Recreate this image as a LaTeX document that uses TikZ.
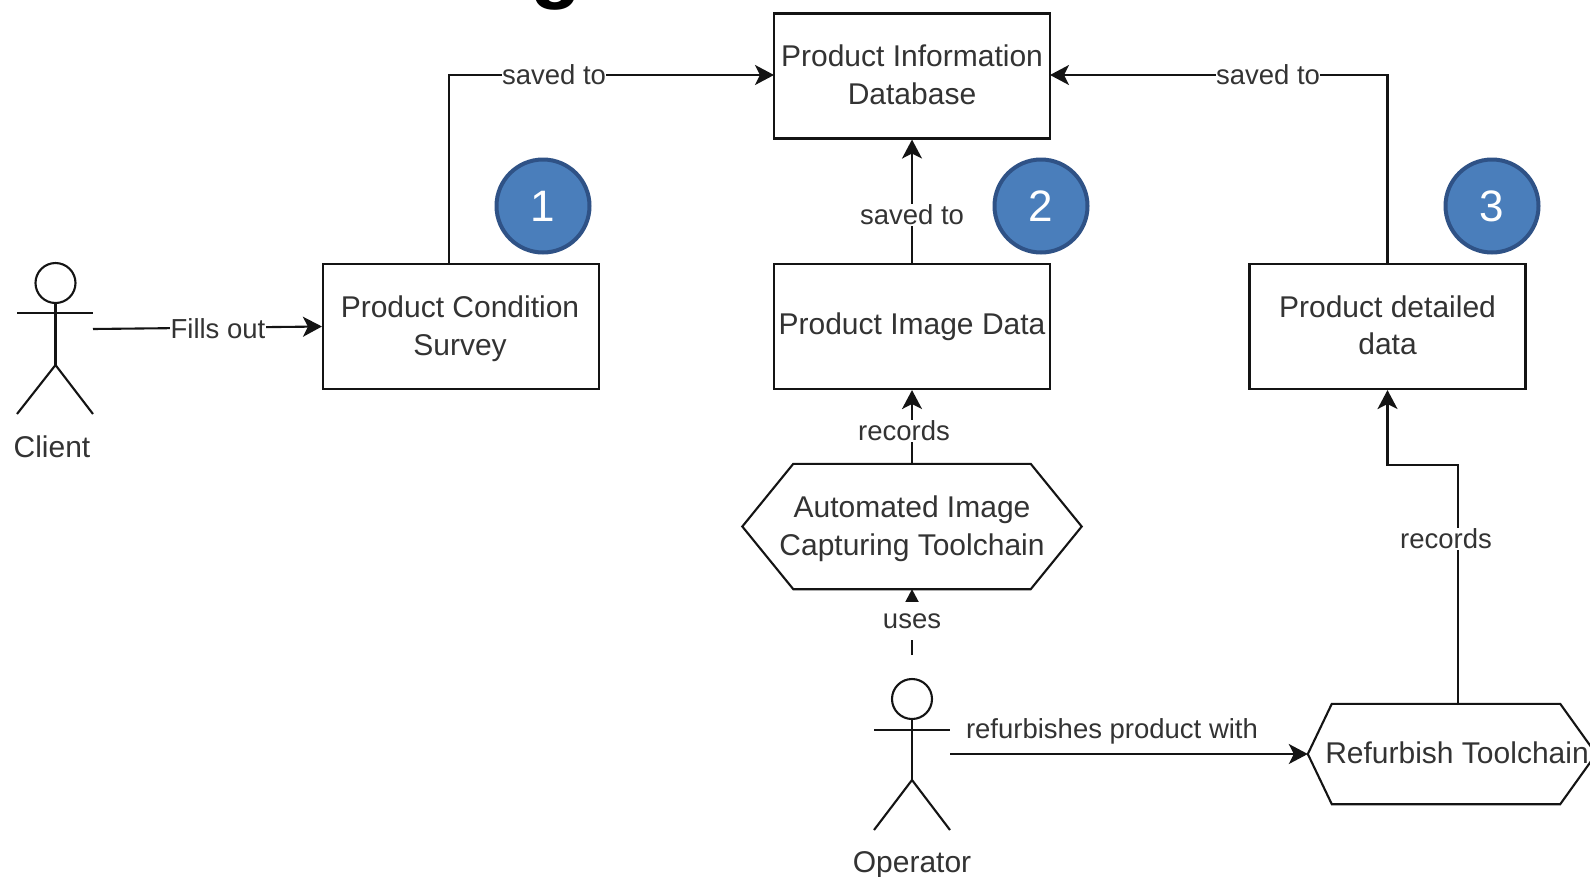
\documentclass[tikz,border=0pt]{standalone}
\usepackage{fontspec}
\setmainfont{Liberation Sans}
\usetikzlibrary{arrows.meta}
\definecolor{inkc}{HTML}{141414}
\definecolor{textc}{HTML}{333333}
\definecolor{badgefill}{HTML}{4A7EBB}
\definecolor{badgeline}{HTML}{2F5286}
\tikzset{
  conn/.style={draw=inkc,line width=2.1pt,-{Stealth[length=19pt,width=20pt,inset=5pt]}},
  plainline/.style={draw=inkc,line width=2.1pt},
  boxnode/.style={draw=inkc,line width=2.1pt,minimum width=276pt,minimum height=125pt,inner sep=0pt},
  boxtext/.style={align=center,font=\fontsize{30}{37.5}\selectfont,text=textc,inner sep=0pt},
  hexbase/.style={minimum width=339pt,minimum height=125pt,inner sep=0pt},
  lbl/.style={fill=white,font=\fontsize{27.5}{32}\selectfont,text=textc,inner sep=0.5pt},
  lblb/.style={font=\fontsize{27.5}{32}\selectfont,text=textc,inner sep=0.5pt},
  actorname/.style={font=\fontsize{30}{34}\selectfont,text=textc,inner sep=0pt},
  head/.style={circle,draw=inkc,line width=2.1pt,minimum size=40pt,inner sep=0pt},
  badge/.style={circle,draw=badgeline,fill=badgefill,line width=4pt,minimum size=93pt,inner sep=0pt,text=white,font=\fontsize{44}{50}\selectfont},
}
\begin{document}
\begin{tikzpicture}[x=1pt,y=-1pt]
\useasboundingbox (0,0) rectangle (1590,876);
\clip (0,0) rectangle (1590,876);
\fill[white] (0,0) rectangle (1590,876);

% clipped heading letter at the top edge
\node[anchor=base,inner sep=0pt,font=\bfseries\fontsize{84}{84}\selectfont,text=black] (titleg) at (556,-8) {g};

% boxes
\node[boxnode] (db) at (912,76) {};
\node[boxtext] (dbtext) at (912,75) {Product Information\\Database};
\node[boxnode] (survey) at (461,326.5) {};
\node[boxtext] (surveytext) at (460,328.5) {Product Condition\\Survey};
\node[boxnode] (image) at (912,326.5) {};
\node[boxtext] (imagetext) at (912,327) {Product Image Data};
\node[boxnode] (detail) at (1387.5,326.5) {};
\node[boxtext] (detailtext) at (1387.5,325.5) {Product detailed\\data};

% hexagons
\node[hexbase] (capture) at (912,526.5) {};
\node[boxtext] (capturetext) at (912,528.5) {Automated Image\\Capturing Toolchain};
\draw[plainline,line join=miter] (capture.west) -- ([xshift=51pt]capture.north west) -- ([xshift=-51pt]capture.north east) -- (capture.east) -- ([xshift=-51pt]capture.south east) -- ([xshift=51pt]capture.south west) -- cycle;
\node[hexbase,minimum width=288pt,minimum height=100pt] (refurb) at (1452,754) {};
\node[boxtext] (refurbtext) at (1457,753) {Refurbish Toolchain};
\draw[plainline,line join=miter] (refurb.west) -- ([xshift=24pt]refurb.north west) -- ([xshift=-36pt]refurb.north east) -- (refurb.east) -- ([xshift=-36pt]refurb.south east) -- ([xshift=24pt]refurb.south west) -- cycle;

% actors
\node[head] (chead) at (55.5,283) {};
\coordinate (chip) at (55.5,365);
\draw[plainline] (chead.south) -- (chip);
\draw[plainline] (17,313) -- (93,313);
\draw[plainline] (17,414) -- (chip) -- (93,414);
\node[actorname] (client) at (52,447) {Client};

\node[head] (ohead) at (912,699) {};
\coordinate (ohip) at (912,780);
\draw[plainline] (ohead.south) -- (ohip);
\draw[plainline] (874,730) -- (950,730);
\draw[plainline] (874,830) -- (ohip) -- (950,830);
\node[actorname] (operator) at (912,865) {Operator};

% free connector ends
\coordinate (cout) at (93,329);
\coordinate (oup) at (912,655);
\coordinate (oright) at (950,754);
\coordinate (sstart) at (449,264);
\coordinate (dbl) at (774,75);
\coordinate (dbr) at (1050,75);
\coordinate (rstart) at (1458,705);
\coordinate (rbend) at (1458,465);

% connectors
\draw[conn] (cout) -- (survey.west);
\node[lbl] (l1) at (218,329) {Fills out};
\draw[conn] (sstart) |- (dbl);
\node[lbl] (l2) at (554,75) {saved to};
\draw[conn] (detail.north) |- (dbr);
\node[lbl] (l3) at (1268,75) {saved to};
\draw[conn] (image.north) -- (db.south);
\node[lbl] (l4) at (912,215) {saved to};
\draw[conn] (capture.north) -- (image.south);
\node[lbl] (l5) at (904,431) {records};
\draw[conn] (oup) -- (capture.south);
\node[lbl,minimum height=38pt] (l6) at (912,621) {uses};
\draw[conn] (oright) -- (refurb.west);
\node[lblb] (l7) at (1112,731) {refurbishes product with};
\draw[conn] (rstart) -- (rbend) -| (detail.south);
\node[lbl] (l8) at (1446,539) {records};

% numbered badges
\node[badge] (b1) at (543,206) {1};
\node[badge] (b2) at (1041,206) {2};
\node[badge] (b3) at (1492,206) {3};
\end{tikzpicture}
\end{document}
